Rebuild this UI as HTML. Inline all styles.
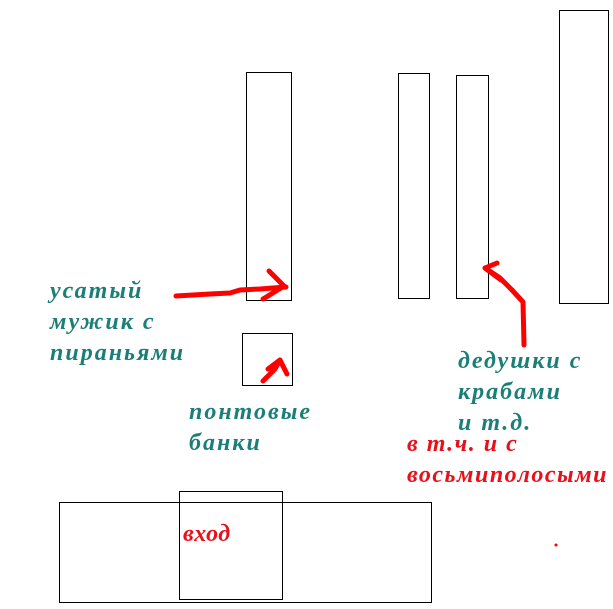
<!DOCTYPE html>
<html><head><meta charset="utf-8"><style>
body{margin:0;background:#fff;width:613px;height:609px;overflow:hidden;position:relative}
.r{position:absolute;border:1px solid #000;box-sizing:border-box}
.t{position:absolute;font-family:"Liberation Serif",serif;font-weight:bold;font-style:italic;font-size:24px;line-height:31px;white-space:nowrap;letter-spacing:2px}
.g{color:#1b7f78}.red{color:#e8101a}
svg{position:absolute;left:0;top:0}
</style></head><body>
<div class="r" style="left:246px;top:72px;width:46px;height:229px"></div>
<div class="r" style="left:242px;top:333px;width:51px;height:53px"></div>
<div class="r" style="left:398px;top:73px;width:32px;height:226px"></div>
<div class="r" style="left:456px;top:75px;width:33px;height:224px"></div>
<div class="r" style="left:559px;top:10px;width:50px;height:294px"></div>
<div class="r" style="left:59px;top:502px;width:373px;height:101px"></div>
<div class="r" style="left:179px;top:491px;width:104px;height:109px"></div>
<div class="t g" style="left:50px;top:276px">усатый<br>мужик с<br>пираньями</div>
<div class="t g" style="left:189px;top:397px">понтовые<br>банки</div>
<div class="t g" style="left:458px;top:346px">дедушки с<br>крабами<br>и т.д.</div>
<div class="t red" style="left:407px;top:429px;letter-spacing:1.5px">в т.ч. и с<br>восьмиполосыми</div>
<div class="t red" style="left:183px;top:519px;letter-spacing:0.5px">вход</div>
<svg width="613" height="609"><g fill="none" stroke="#f00" stroke-width="5" stroke-linecap="round" stroke-linejoin="round">
<path d="M176 296 L210 294 L230 293 L240 290 L260 289 L286 287"/>
<path d="M269 271 L284 286 L268 296 L263 299"/>
<path d="M263 381 L275 369 L280 360 L268 369"/>
<path d="M280 360 L287 374"/>
<path d="M524 345 L523 302 L512 290 L500 278 L485 268 L497 263"/>
<path d="M485 268 L501 280"/>
</g><circle cx="556" cy="545" r="1.5" fill="#f00"/></svg>
</body></html>
